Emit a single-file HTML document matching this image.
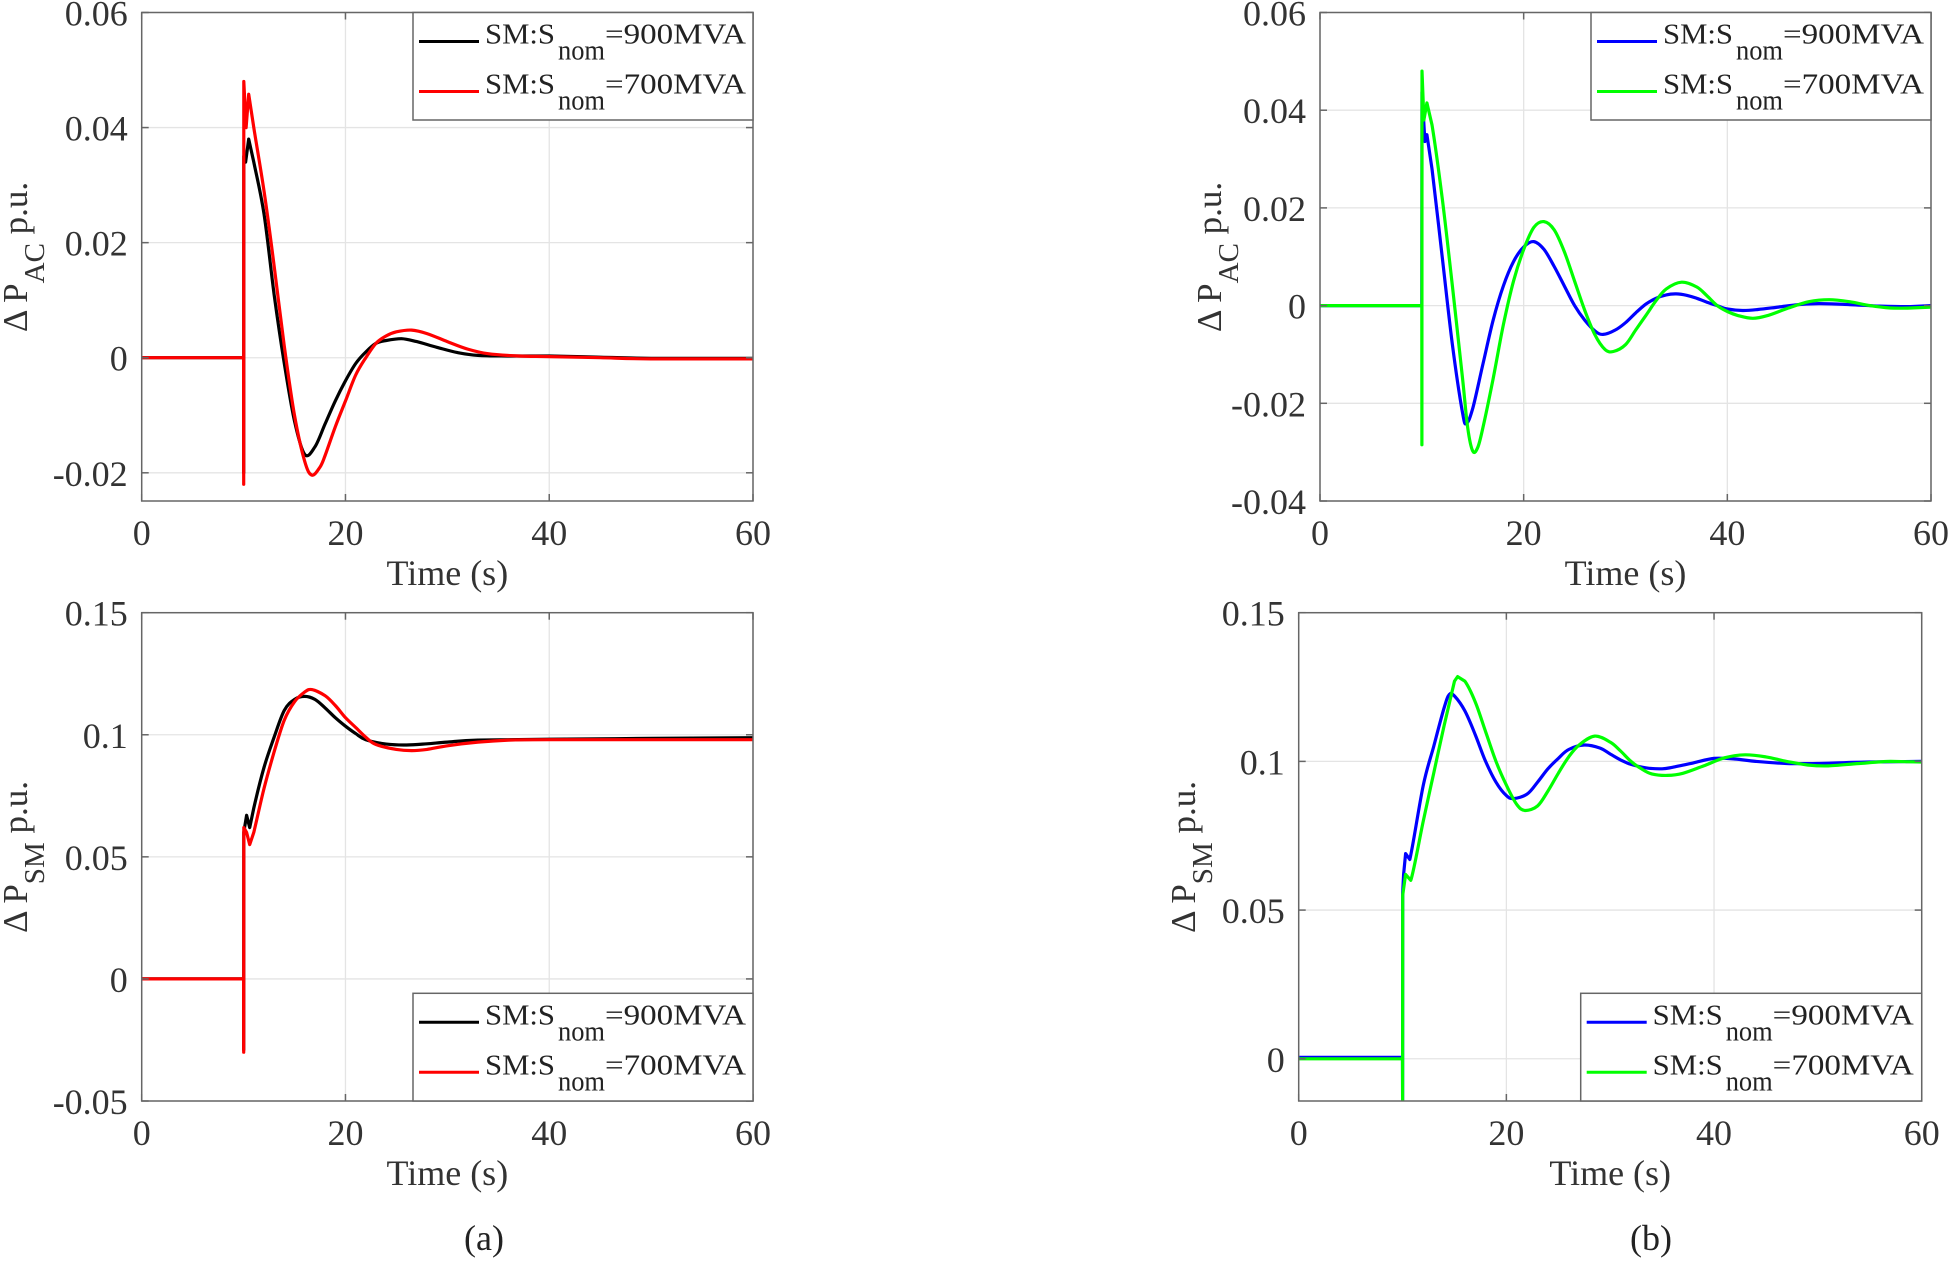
<!DOCTYPE html>
<html><head><meta charset="utf-8"><style>
html,body{margin:0;padding:0;background:#fff;}
svg{display:block;font-family:"Liberation Serif","DejaVu Serif",serif;}
svg text{font-family:"Liberation Serif","DejaVu Serif",serif;}
</style></head>
<body>
<svg id="fig" width="1949" height="1262" viewBox="0 0 1949 1262" xmlns="http://www.w3.org/2000/svg" font-family="Liberation Serif, DejaVu Serif, serif"></svg>
<script>
// ---- data (time in s, values in p.u.) ----
const a1BlackT=[0,10,10.01,10.02,10.2,10.5,11,12,13,14,15,16,17,18,19,20,21,22,23,24,25.5,27,29,31,33,36,40,45,50,60];
const a1BlackV=[0,0,-0.02,0.035,0.034,0.038,0.034,0.025,0.011,-0.001,-0.011,-0.0168,-0.0155,-0.0115,-0.0075,-0.004,-0.001,0.001,0.0025,0.003,0.0033,0.0028,0.0018,0.0009,0.0004,0.0003,0.0003,0.0001,-0.0001,-0.0001];
const a1RedT=[0,10,10.01,10.02,10.25,10.5,11,12,13,14,15,16,16.7,17.5,18,19,20,21,22,23,24,25,26.5,28,30,32,34,37,40,45,50,60];
const a1RedV=[0,0,-0.022,0.048,0.040,0.0458,0.040,0.029,0.016,0.002,-0.010,-0.018,-0.0204,-0.019,-0.017,-0.012,-0.0075,-0.003,0,0.0025,0.0038,0.0045,0.0048,0.0042,0.0028,0.0015,0.0007,0.0003,0.0002,0,-0.0002,-0.0002];

const a2BlackT=[0,10,10.01,10.02,10.3,10.6,11,12,13,14,15,16,17,18,19,20,21,22,24,26,28,30,33,40,50,60];
const a2BlackV=[0,0,-0.029,0.06,0.067,0.062,0.07,0.0866,0.099,0.11,0.1145,0.1157,0.1145,0.111,0.107,0.1035,0.1005,0.098,0.0962,0.0958,0.0963,0.097,0.0978,0.0982,0.0985,0.0988];
const a2RedT=[0,10,10.01,10.02,10.3,10.6,11,12,13,14,15,16,16.7,18,19,20,21,22,23,25,26.5,28,30,33,36,40,50,60];
const a2RedV=[0,0,-0.03,0.062,0.06,0.055,0.06,0.078,0.093,0.106,0.1135,0.1175,0.1185,0.116,0.112,0.107,0.103,0.099,0.096,0.094,0.0935,0.094,0.0955,0.097,0.0978,0.098,0.098,0.098];

const b1BlueT=[0,10,10.02,10.3,10.5,11,12,13,14,14.4,15,16,17,18,19,20,21,22,23,24,25,26,27,27.8,29,30,31,32,33,34,35,36,37,38,39,40,41.5,43,45,47,49,52,55,58,60];
const b1BlueV=[0,0,0.0437,0.0336,0.035,0.028,0.010,-0.008,-0.022,-0.0241,-0.021,-0.012,-0.003,0.004,0.009,0.012,0.0131,0.0115,0.008,0.004,0,-0.003,-0.0052,-0.0059,-0.005,-0.0035,-0.0015,0.0003,0.0015,0.0022,0.0024,0.0021,0.0015,0.0007,0,-0.0007,-0.001,-0.0008,-0.0003,0.0002,0.0004,0.0002,-0.0001,-0.0002,0];
const b1GreenT=[0,10,10.01,10.02,10.2,10.5,11,12,13,14,14.5,15,15.5,16,17,18,19,20,21,22,23,24,25,26,27,28,28.8,30,31,32,33,34,35.5,37,38,39,40,41,42.5,44,46,48,50,52,54,56,58,60];
const b1GreenV=[0,0,-0.0285,0.048,0.038,0.0415,0.037,0.022,0.004,-0.015,-0.025,-0.0298,-0.029,-0.025,-0.015,-0.004,0.005,0.0115,0.016,0.0172,0.0155,0.011,0.005,-0.001,-0.006,-0.009,-0.0094,-0.008,-0.005,-0.002,0.001,0.0034,0.0048,0.0038,0.002,0,-0.0012,-0.002,-0.0026,-0.002,-0.0005,0.0008,0.0012,0.0008,0,-0.0005,-0.0005,-0.0003];

const b2BlueT=[0,10,10.01,10.02,10.1,10.3,10.7,12,13,14,14.5,15,16,17,18,19,20,20.7,22,23,24,25,26,27.5,29,30,31,32,33.5,35,36,38,40,42,44,47,50,55,60];
const b2BlueV=[0.0005,0.0005,-0.014,0.056,0.062,0.069,0.067,0.092,0.105,0.118,0.1225,0.122,0.117,0.109,0.1,0.093,0.0885,0.0875,0.089,0.093,0.0975,0.101,0.104,0.1055,0.1045,0.1025,0.1005,0.099,0.0978,0.0975,0.098,0.0995,0.101,0.1008,0.1,0.0993,0.0993,0.0998,0.1];
const b2GreenT=[0,10,10.01,10.02,10.3,10.8,12,13,14,15,15.3,16,17,18,19,20,21,21.8,23,24,25,26,27,28.5,30,31,32,33,34,35.5,37,39,41,43,45,47,49,51,54,57,60];
const b2GreenV=[0,0,-0.014,0.055,0.062,0.060,0.08,0.096,0.112,0.127,0.1285,0.127,0.12,0.11,0.1,0.092,0.0855,0.0835,0.085,0.09,0.096,0.1015,0.1055,0.1085,0.1065,0.1035,0.1,0.0975,0.0958,0.0953,0.096,0.0985,0.1012,0.1022,0.1015,0.1,0.0988,0.0985,0.0993,0.1,0.0998];

const xTickVals=[0,20,40,60];
const yTicksA1=[-0.02,0,0.02,0.04,0.06];
const yTicksA1Labels=["-0.02","0","0.02","0.04","0.06"];
const yTicksA2=[-0.05,0,0.05,0.1,0.15];
const yTicksA2Labels=["-0.05","0","0.05","0.1","0.15"];
const yTicksB1=[-0.04,-0.02,0,0.02,0.04,0.06];
const yTicksB1Labels=["-0.04","-0.02","0","0.02","0.04","0.06"];
const yTicksB2=[0,0.05,0.1,0.15];
const yTicksB2Labels=["0","0.05","0.1","0.15"];
const legendLabels=["=900MVA","=700MVA"];

const NS="http://www.w3.org/2000/svg";
const FF='Liberation Serif, DejaVu Serif, serif';
const svg=document.getElementById('fig');
function mk(tag,attrs,parent){const e=document.createElementNS(NS,tag);for(const k in attrs)e.setAttribute(k,attrs[k]);if(tag==='text')e.setAttribute('font-family',FF);(parent||svg).appendChild(e);return e;}

function smoothPath(T,V,sx,sy){
  const P=T.map((t,i)=>[sx(t),sy(V[i])]);
  let d='M'+P[0][0].toFixed(1)+','+P[0][1].toFixed(1);
  for(let i=0;i<P.length-1;i++){
    const short=(a,b)=>(a<0||b>=T.length)?false:(T[b]-T[a]<0.35);
    if(short(i,i+1)||short(i-1,i)||short(i+1,i+2)||i===0||i===P.length-2){
      d+=' L'+P[i+1][0].toFixed(1)+','+P[i+1][1].toFixed(1);continue;}
    const p0=P[i-1],p1=P[i],p2=P[i+1],p3=P[i+2];
    const c1=[p1[0]+(p2[0]-p0[0])/6,p1[1]+(p2[1]-p0[1])/6];
    const c2=[p2[0]-(p3[0]-p1[0])/6,p2[1]-(p3[1]-p1[1])/6];
    d+=' C'+c1[0].toFixed(1)+','+c1[1].toFixed(1)+' '+c2[0].toFixed(1)+','+c2[1].toFixed(1)+' '+p2[0].toFixed(1)+','+p2[1].toFixed(1);
  }
  return d;
}

function panel(cfg){
  const g=mk('g',{});
  
  
  const sx=t=>cfg.x0+(t-0)/(60-0)*(cfg.x1-cfg.x0);
  const sy=v=>cfg.y1-(v-cfg.ymin)/(cfg.ymax-cfg.ymin)*(cfg.y1-cfg.y0);
  xTickVals.forEach(t=>{const l=mk('line',{x1:sx(t),x2:sx(t),y1:cfg.y0,y2:cfg.y1,stroke:'#e4e4e4','stroke-width':1.3},g);
    
    });
  cfg.yt.forEach(v=>{const l=mk('line',{x1:cfg.x0,x2:cfg.x1,y1:sy(v),y2:sy(v),stroke:'#e4e4e4','stroke-width':1.3},g);
    
    });
  const cp=mk('clipPath',{id:'cp'+cfg.id},g);
  mk('rect',{x:cfg.x0,y:cfg.y0,width:cfg.x1-cfg.x0,height:cfg.y1-cfg.y0},cp);
  cfg.series.forEach(s=>{
    const p=mk('path',{d:smoothPath(s.t,s.v,sx,sy),fill:'none',stroke:s.color,'stroke-width':3.2,'stroke-linejoin':'round','clip-path':'url(#cp'+cfg.id+')'},g);
    
    
  });
  const box=mk('rect',{x:cfg.x0,y:cfg.y0,width:cfg.x1-cfg.x0,height:cfg.y1-cfg.y0,fill:'none',stroke:'#666','stroke-width':1.5},g);
  
  
  xTickVals.forEach(t=>{
    mk('line',{x1:sx(t),x2:sx(t),y1:cfg.y1,y2:cfg.y1-7,stroke:'#666','stroke-width':1.5},g);
    mk('line',{x1:sx(t),x2:sx(t),y1:cfg.y0,y2:cfg.y0+7,stroke:'#666','stroke-width':1.5},g);
    const tx=mk('text',{x:sx(t),y:cfg.y1+44,'text-anchor':'middle','font-size':36,fill:'#333'},g);
    tx.textContent=String(t);
    
    
  });
  cfg.yt.forEach((v,i)=>{
    mk('line',{x1:cfg.x0,x2:cfg.x0+7,y1:sy(v),y2:sy(v),stroke:'#666','stroke-width':1.5},g);
    mk('line',{x1:cfg.x1,x2:cfg.x1-7,y1:sy(v),y2:sy(v),stroke:'#666','stroke-width':1.5},g);
    const tx=mk('text',{x:cfg.x0-14,y:sy(v)+13,'text-anchor':'end','font-size':36,fill:'#333'},g);
    tx.textContent=cfg.ytl[i];
    
    
  });
  const xt=mk('text',{x:(cfg.x0+cfg.x1)/2,y:cfg.y1+84,'text-anchor':'middle','font-size':36,fill:'#333'},g);
  xt.textContent='Time (s)';
  
  
  const yt=mk('text',{transform:`translate(${cfg.ylx},${cfg.yly}) rotate(-90)`,'text-anchor':'middle','font-size':35,fill:'#333'},g);
  
  
  const s1=mk('tspan',{},yt);s1.textContent='\u0394 P';
  const s2=mk('tspan',{dy:17,'font-size':29},yt);s2.textContent=cfg.sub;
  const s3=mk('tspan',{dy:-17},yt);s3.textContent=' p.u.';
  const L=cfg.leg;
  const lg=mk('g',{},g);
  
  
  mk('rect',{x:L.x,y:L.y,width:L.w,height:L.h,fill:'#fff',stroke:'#666','stroke-width':1.5},lg);
  cfg.series.forEach((s,i)=>{
    const oy=L.y+(i===0?29:79);
    const ent=mk('g',{},lg);
    
    
    mk('line',{x1:L.x+6,x2:L.x+66,y1:oy,y2:oy,stroke:s.color,'stroke-width':3},ent);
    const bl=L.y+(i===0?31:81);
    const t1=mk('text',{x:L.x+72,y:bl,'font-size':29,fill:'#222',textLength:70,lengthAdjust:'spacingAndGlyphs'},ent);t1.textContent='SM:S';
    const t2=mk('text',{x:L.x+145,y:bl+16,'font-size':28,fill:'#222',textLength:47,lengthAdjust:'spacingAndGlyphs'},ent);t2.textContent='nom';
    const t3=mk('text',{x:L.x+192,y:bl,'font-size':29,fill:'#222',textLength:141,lengthAdjust:'spacingAndGlyphs'},ent);t3.textContent=legendLabels[i];
  });
}

panel({id:'a1',name:'panel-a-pac',x0:141.7,x1:753,y0:12.5,y1:501,ymin:-0.0249,ymax:0.06,yt:yTicksA1,ytl:yTicksA1Labels,ylx:27,yly:257,sub:'AC',
  leg:{x:413,y:12.5,w:340,h:107.5},
  series:[{t:a1BlackT,v:a1BlackV,color:'#000',name:'line-900mva'},{t:a1RedT,v:a1RedV,color:'#ff0000',name:'line-700mva'}]});
panel({id:'a2',name:'panel-a-psm',x0:141.7,x1:753,y0:612.7,y1:1101,ymin:-0.05,ymax:0.15,yt:yTicksA2,ytl:yTicksA2Labels,ylx:27,yly:857,sub:'SM',
  leg:{x:413,y:993.3,w:340,h:107.7},
  series:[{t:a2BlackT,v:a2BlackV,color:'#000',name:'line-900mva'},{t:a2RedT,v:a2RedV,color:'#ff0000',name:'line-700mva'}]});
panel({id:'b1',name:'panel-b-pac',x0:1320,x1:1931,y0:12.5,y1:501,ymin:-0.04,ymax:0.06,yt:yTicksB1,ytl:yTicksB1Labels,ylx:1221,yly:257,sub:'AC',
  leg:{x:1591,y:12.5,w:340,h:107.5},
  series:[{t:b1BlueT,v:b1BlueV,color:'#0000ff',name:'line-900mva'},{t:b1GreenT,v:b1GreenV,color:'#00ff00',name:'line-700mva'}]});
panel({id:'b2',name:'panel-b-psm',x0:1298.7,x1:1921.7,y0:612.7,y1:1101,ymin:-0.0142,ymax:0.15,yt:yTicksB2,ytl:yTicksB2Labels,ylx:1195,yly:857,sub:'SM',
  leg:{x:1580.7,y:993.3,w:341,h:107.7},
  series:[{t:b2BlueT,v:b2BlueV,color:'#0000ff',name:'line-900mva'},{t:b2GreenT,v:b2GreenV,color:'#00ff00',name:'line-700mva'}]});

const ca=mk('text',{x:484,y:1250,'text-anchor':'middle','font-size':36,fill:'#222'});
ca.textContent='(a)';


const cb=mk('text',{x:1651,y:1250,'text-anchor':'middle','font-size':36,fill:'#222'});
cb.textContent='(b)';


</script>
</body></html>
